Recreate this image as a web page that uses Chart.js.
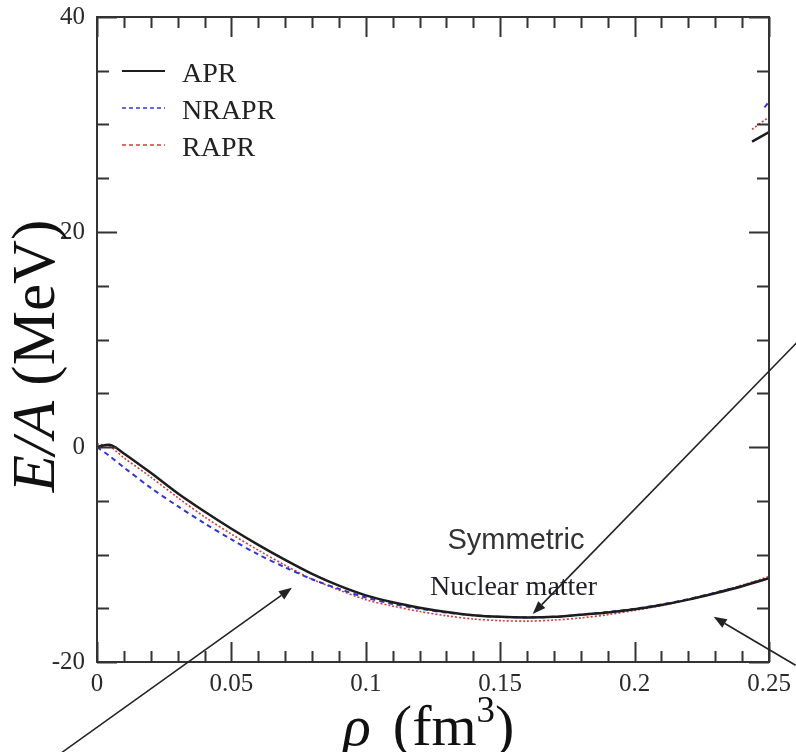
<!DOCTYPE html>
<html>
<head>
<meta charset="utf-8">
<script src="https://cdn.jsdelivr.net/npm/chart.js@4/dist/chart.umd.min.js"></script>
<style>
  html, body { margin: 0; padding: 0; background: #fff; }
  #wrap { width: 796px; height: 752px; }
</style>
</head>
<body>
<div id="wrap"><canvas id="c" width="796" height="752"></canvas></div>
<script>
// ---- data ----
const rho    = [0, 0.005, 0.01, 0.02, 0.03, 0.04, 0.05, 0.06, 0.07, 0.08, 0.09, 0.10, 0.11, 0.12, 0.13, 0.14, 0.15, 0.16, 0.17, 0.18, 0.19, 0.20, 0.21, 0.22, 0.23, 0.24, 0.25];
const apr    = [0, 0.2, -0.6, -2.4, -4.3, -6.0, -7.6, -9.1, -10.5, -11.8, -12.9, -13.8, -14.45, -14.95, -15.35, -15.65, -15.8, -15.85, -15.8, -15.6, -15.4, -15.1, -14.7, -14.2, -13.6, -12.95, -12.2];
const nrapr  = [0, -0.9, -1.9, -3.8, -5.5, -7.1, -8.6, -10.0, -11.2, -12.3, -13.2, -14.0, -14.6, -15.05, -15.4, -15.65, -15.8, -15.85, -15.8, -15.6, -15.35, -15.05, -14.65, -14.15, -13.55, -12.9, -12.2];
const rapr   = [0.3, 0.0, -1.0, -2.8, -4.7, -6.5, -8.1, -9.6, -11.0, -12.3, -13.3, -14.2, -14.8, -15.3, -15.7, -16.0, -16.15, -16.2, -16.1, -15.9, -15.6, -15.2, -14.75, -14.2, -13.55, -12.85, -12.05];

// fragments visible at the right edge near the top
const fragRho      = [0.2437, 0.25];
const aprFrag      = [28.4, 29.3];
const raprFrag     = [29.55, 30.7];
const nraprFragRho = [0.2483, 0.25];
const nraprFrag    = [31.6, 32.1];

const seriesNames  = ['APR', 'NRAPR', 'RAPR'];
const xTickValues  = [0, 0.05, 0.1, 0.15, 0.2, 0.25];
const xTickLabels  = ['0', '0.05', '0.1', '0.15', '0.2', '0.25'];
const yTickValues  = [-20, 0, 20, 40];
const yTickLabels  = ['-20', '0', '20', '40'];
const xMinorStep = 0.01, yMinorStep = 5;

// annotations in data coordinates: [tailX, tailY, tipX, tipY]
const arrows = [
  [0.2602, 9.67, 0.1621, -15.53],
  [-0.013, -28.4, 0.0725, -13.1],
  [0.2599, -20.3, 0.2294, -15.8]
];

const pts = (xs, ys) => xs.map((x, i) => ({x, y: ys[i]}));

const styles = {
  APR:   {color: '#1c1c1c', width: 2.5, dash: [], legendDash: []},
  NRAPR: {color: '#3434d6', width: 2,   dash: [5, 4], legendDash: [4, 3]},
  RAPR:  {color: '#d43a3a', width: 1.6, dash: [2, 2], legendDash: [4, 3]}
};

const mk = (label, data, st, legend) => ({
  label, data, borderColor: st.color, borderWidth: st.width, borderDash: st.dash,
  pointRadius: 0, tension: 0.3, fill: false, showInLegend: legend
});

const datasets = [
  mk(seriesNames[0], pts(rho, apr), styles.APR, true),
  mk(seriesNames[1], pts(rho, nrapr), styles.NRAPR, true),
  mk(seriesNames[2], pts(rho, rapr), styles.RAPR, true),
  mk('APR frag', pts(fragRho, aprFrag), styles.APR, false),
  mk('RAPR frag', pts(fragRho, raprFrag), styles.RAPR, false),
  mk('NRAPR frag', pts(nraprFragRho, nraprFrag), styles.NRAPR, false)
];

const serif = '"Liberation Serif", "Times New Roman", serif';
const sans = '"Liberation Sans", Arial, sans-serif';

const zeroPad = s => { s.paddingTop = 0; s.paddingBottom = 0; s.paddingLeft = 0; s.paddingRight = 0; };

const decor = {
  id: 'decor',
  afterDraw(chart) {
    const ctx = chart.ctx, a = chart.chartArea, xs = chart.scales.x, ys = chart.scales.y;
    ctx.save();
    // frame
    ctx.strokeStyle = '#333'; ctx.lineWidth = 2; ctx.setLineDash([]);
    ctx.strokeRect(a.left, a.top, a.right - a.left, a.bottom - a.top);
    // inward ticks
    ctx.lineWidth = 2;
    const nx = Math.round((xs.max - xs.min) / xMinorStep);
    for (let i = 0; i <= nx; i++) {
      const v = xs.min + i * xMinorStep;
      const px = Math.round(xs.getPixelForValue(v)) + 0.5;
      const len = (i % 5 === 0) ? 20 : 11;
      ctx.beginPath();
      ctx.moveTo(px, a.bottom); ctx.lineTo(px, a.bottom - len);
      ctx.moveTo(px, a.top); ctx.lineTo(px, a.top + len);
      ctx.stroke();
    }
    const ny = Math.round((ys.max - ys.min) / yMinorStep);
    for (let i = 0; i <= ny; i++) {
      const v = ys.min + i * yMinorStep;
      const py = Math.round(ys.getPixelForValue(v)) + 0.5;
      const len = (i % 4 === 0) ? 20 : 12;
      ctx.beginPath();
      ctx.moveTo(a.left, py); ctx.lineTo(a.left + len, py);
      ctx.moveTo(a.right, py); ctx.lineTo(a.right - len, py);
      ctx.stroke();
    }
    // legend
    const lx0 = a.left + 25, lx1 = a.left + 68, tx = a.left + 85;
    let ly = a.top + 54;
    chart.data.datasets.filter(d => d.showInLegend).forEach(d => {
      const st = styles[d.label];
      ctx.strokeStyle = st.color; ctx.lineWidth = d.label === 'APR' ? 2 : 1.6;
      ctx.setLineDash(st.legendDash);
      ctx.beginPath(); ctx.moveTo(lx0, ly); ctx.lineTo(lx1, ly); ctx.stroke();
      ctx.setLineDash([]);
      ctx.fillStyle = '#222'; ctx.font = '28px ' + serif;
      ctx.textAlign = 'left'; ctx.textBaseline = 'alphabetic';
      ctx.fillText(d.label, tx, ly + 11);
      ly += 37;
    });
    // arrows
    ctx.strokeStyle = '#222'; ctx.fillStyle = '#222'; ctx.lineWidth = 1.6; ctx.setLineDash([]);
    arrows.forEach(([x0, y0, x1, y1]) => {
      const p0x = xs.getPixelForValue(x0), p0y = ys.getPixelForValue(y0);
      const p1x = xs.getPixelForValue(x1), p1y = ys.getPixelForValue(y1);
      const ang = Math.atan2(p1y - p0y, p1x - p0x);
      const hl = 13, hw = 5;
      const bx = p1x - hl * Math.cos(ang), by = p1y - hl * Math.sin(ang);
      ctx.beginPath(); ctx.moveTo(p0x, p0y); ctx.lineTo(bx, by); ctx.stroke();
      ctx.beginPath();
      ctx.moveTo(p1x, p1y);
      ctx.lineTo(bx + hw * Math.sin(ang), by - hw * Math.cos(ang));
      ctx.lineTo(bx - hw * Math.sin(ang), by + hw * Math.cos(ang));
      ctx.closePath(); ctx.fill();
    });
    // annotation texts
    ctx.fillStyle = '#333'; ctx.font = '29px ' + sans; ctx.textAlign = 'center';
    ctx.fillText('Symmetric', 516, 549);
    ctx.fillStyle = '#1e1e28'; ctx.font = '28px ' + serif; ctx.textAlign = 'left';
    ctx.fillText('Nuclear matter', 430, 595);
    // y axis title
    ctx.save();
    ctx.translate(54, 356);
    ctx.rotate(-Math.PI / 2);
    ctx.fillStyle = '#111';
    const fI = 'italic 61px ' + serif, fN = '61px ' + serif;
    ctx.font = fI; const w1 = ctx.measureText('E/A').width;
    ctx.font = fN; const w2 = ctx.measureText(' (MeV)').width;
    let sx = -(w1 + w2) / 2;
    ctx.textAlign = 'left'; ctx.textBaseline = 'alphabetic';
    ctx.font = fI; ctx.fillText('E/A', sx, 0);
    ctx.font = fN; ctx.fillText(' (MeV)', sx + w1, 0);
    ctx.restore();
    // x axis title
    ctx.fillStyle = '#111'; ctx.textAlign = 'left'; ctx.textBaseline = 'alphabetic';
    let x = 343; const base = 745;
    ctx.font = 'italic 58px ' + serif; ctx.fillText('\u03C1', x, base);
    x += ctx.measureText('\u03C1').width + 22;
    ctx.font = '58px ' + serif; ctx.fillText('(fm', x, base);
    x += ctx.measureText('(fm').width;
    ctx.font = '37px ' + serif; ctx.fillText('3', x, base - 23);
    x += ctx.measureText('3').width;
    ctx.font = '58px ' + serif; ctx.fillText(')', x, base);
    ctx.restore();
  }
};

new Chart(document.getElementById('c'), {
  type: 'line',
  data: { datasets },
  options: {
    responsive: false,
    devicePixelRatio: 1,
    animation: false,
    layout: { padding: { top: 17, right: 27, left: 0, bottom: 0 } },
    plugins: { legend: { display: false }, tooltip: { enabled: false } },
    scales: {
      x: {
        type: 'linear', min: 0, max: 0.25,
        grid: { display: false, drawTicks: false },
        border: { display: false },
        afterBuildTicks: s => { s.ticks = xTickValues.map(v => ({value: v})); },
        afterFit: s => { s.height = 90; zeroPad(s); },
        ticks: {
          padding: 7, color: '#2a2a2a', maxRotation: 0, autoSkip: false,
          font: { family: serif, size: 25 },
          callback: (v, i) => xTickLabels[i]
        }
      },
      y: {
        type: 'linear', min: -20, max: 40,
        grid: { display: false, drawTicks: false },
        border: { display: false },
        afterBuildTicks: s => { s.ticks = yTickValues.map(v => ({value: v})); },
        afterFit: s => { s.width = 97; zeroPad(s); },
        ticks: {
          padding: 12, color: '#2a2a2a', autoSkip: false,
          font: { family: serif, size: 25 },
          callback: (v, i) => yTickLabels[i]
        }
      }
    }
  },
  plugins: [decor]
});
</script>
</body>
</html>
